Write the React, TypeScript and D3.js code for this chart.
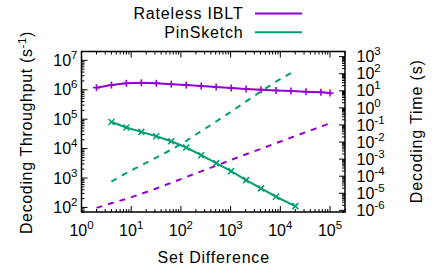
import React from "react";
import * as d3 from "d3";

// ---- data ----
const ibltX = [2, 4, 8, 16, 32, 64, 128, 256, 512, 1024, 2048, 4096, 8192, 16384, 32768, 65536, 100000];
const ibltThroughput = [1.18e6, 1.44e6, 1.66e6, 1.72e6, 1.66e6, 1.55e6, 1.44e6, 1.34e6, 1.24e6, 1.15e6, 1.07e6, 1.01e6, 9.5e5, 9.0e5, 8.6e5, 8.2e5, 7.7e5];
const ibltTime = [1.4e-6, 2.6e-6, 4.7e-6, 9.3e-6, 1.9e-5, 4.1e-5, 8.9e-5, 1.92e-4, 4.1e-4, 9.0e-4, 1.93e-3, 4.05e-3, 8.6e-3, 1.82e-2, 3.8e-2, 8.0e-2, 0.125];

const pinX = [4, 8, 16, 32, 64, 128, 256, 512, 1024, 2048, 4096, 8192, 20000];
const pinThroughput = [8.0e4, 5.2e4, 3.7e4, 2.63e4, 1.78e4, 1.09e4, 5.97e3, 3.2e3, 1.71e3, 849, 444, 231, 111];
const pinTime = [4.8e-5, 1.54e-4, 4.3e-4, 1.22e-3, 3.6e-3, 1.17e-2, 4.3e-2, 0.16, 0.6, 2.4, 9.2, 35, 150];

const xTickExps = [0, 1, 2, 3, 4, 5];
const yTickExps = [2, 3, 4, 5, 6, 7];
const y2TickExps = [3, 2, 1, 0, -1, -2, -3, -4, -5, -6];

const seriesNames = ["Rateless IBLT", "PinSketch"];
const legendWidths = [109.3, 78.4];
const colors = ["#9400D3", "#009E73"];

const W = 435;
const H = 273;
const L = 81.5, R = 345, T = 51.5, B = 212;
const FONT = "'Liberation Sans', Arial, Helvetica, sans-serif";

const x = d3.scaleLog().domain([1, 2e5]).range([L, R]);
const y = d3.scaleLog().domain([70, 2e7]).range([B, T]);
const y2 = d3.scaleLog().domain([8e-7, 2e3]).range([B, T]);

function minorVals(scale: any): number[] {
  const [a, b] = scale.domain();
  const out: number[] = [];
  for (let d = Math.floor(Math.log10(a)) - 1; d <= Math.ceil(Math.log10(b)); d++) {
    for (let m = 2; m <= 9; m++) {
      const v = m * Math.pow(10, d);
      if (v >= a && v <= b) out.push(v);
    }
  }
  return out;
}

function Sup({ x, y, exp, anchor }: { x: number; y: number; exp: number; anchor: string }) {
  return (
    <text x={x} y={y} textAnchor={anchor as any} fontSize={16} fontFamily={FONT} fill="#000">
      <tspan>10</tspan>
      <tspan dy={-7} fontSize={11.5}>{String(exp)}</tspan>
    </text>
  );
}

function Marker({ cx, cy, type, color }: { cx: number; cy: number; type: string; color: string }) {
  const s = 3.5;
  if (type === "+") {
    return (
      <g stroke={color} strokeWidth={1.6}>
        <line x1={cx - s} y1={cy} x2={cx + s} y2={cy} />
        <line x1={cx} y1={cy - s} x2={cx} y2={cy + s} />
      </g>
    );
  }
  const t = 3;
  return (
    <g stroke={color} strokeWidth={1.6}>
      <line x1={cx - t} y1={cy - t} x2={cx + t} y2={cy + t} />
      <line x1={cx - t} y1={cy + t} x2={cx + t} y2={cy - t} />
    </g>
  );
}

export default function App() {
  const solid = d3.line<[number, number]>().x((d) => x(d[0])).y((d) => y(d[1]));
  const dashed = d3.line<[number, number]>().x((d) => x(d[0])).y((d) => y2(d[1]));

  const ibltSolid = ibltX.map((v, i) => [v, ibltThroughput[i]] as [number, number]);
  const ibltDash = ibltX.map((v, i) => [v, ibltTime[i]] as [number, number]);
  const pinSolid = pinX.map((v, i) => [v, pinThroughput[i]] as [number, number]);
  const pinDash = pinX.map((v, i) => [v, pinTime[i]] as [number, number]);

  const maj = 6, mn = 3;

  return (
    <svg width={W} height={H} style={{ position: "absolute", left: 0, top: 0, background: "#fff" }}>
      <rect x={0} y={0} width={W} height={H} fill="#fff" />
      {/* ticks */}
      <g stroke="#000" strokeWidth={1}>
        {xTickExps.map((e) => {
          const px = x(Math.pow(10, e));
          return (
            <g key={"xm" + e}>
              <line x1={px} y1={B} x2={px} y2={B - maj} />
              <line x1={px} y1={T} x2={px} y2={T + maj} />
            </g>
          );
        })}
        {minorVals(x).map((v, i) => (
          <g key={"xn" + i}>
            <line x1={x(v)} y1={B} x2={x(v)} y2={B - mn} />
            <line x1={x(v)} y1={T} x2={x(v)} y2={T + mn} />
          </g>
        ))}
        {yTickExps.map((e) => (
          <line key={"ym" + e} x1={L} y1={y(Math.pow(10, e))} x2={L + maj} y2={y(Math.pow(10, e))} />
        ))}
        {minorVals(y).map((v, i) => (
          <line key={"yn" + i} x1={L} y1={y(v)} x2={L + mn} y2={y(v)} />
        ))}
        {y2TickExps.map((e) => (
          <line key={"y2m" + e} x1={R} y1={y2(Math.pow(10, e))} x2={R - maj} y2={y2(Math.pow(10, e))} />
        ))}
        {minorVals(y2).map((v, i) => (
          <line key={"y2n" + i} x1={R} y1={y2(v)} x2={R - mn} y2={y2(v)} />
        ))}
      </g>

      {/* series */}
      <path d={dashed(ibltDash) || ""} fill="none" stroke={colors[0]} strokeWidth={2} strokeDasharray="6,6" />
      <path d={dashed(pinDash) || ""} fill="none" stroke={colors[1]} strokeWidth={2} strokeDasharray="6,6" />
      <path d={solid(ibltSolid) || ""} fill="none" stroke={colors[0]} strokeWidth={2} />
      <path d={solid(pinSolid) || ""} fill="none" stroke={colors[1]} strokeWidth={2} />
      {ibltSolid.map((d, i) => (
        <Marker key={"im" + i} cx={x(d[0])} cy={y(d[1])} type="+" color={colors[0]} />
      ))}
      {pinSolid.map((d, i) => (
        <Marker key={"pm" + i} cx={x(d[0])} cy={y(d[1])} type="x" color={colors[1]} />
      ))}

      {/* frame */}
      <rect x={L} y={T} width={R - L} height={B - T} fill="none" stroke="#000" strokeWidth={1.5} />

      {/* tick labels */}
      {xTickExps.map((e) => (
        <Sup key={"xl" + e} x={x(Math.pow(10, e))} y={235.5} exp={e} anchor="middle" />
      ))}
      {yTickExps.map((e) => (
        <Sup key={"yl" + e} x={77.5} y={y(Math.pow(10, e)) + 5.7} exp={e} anchor="end" />
      ))}
      {y2TickExps.map((e) => (
        <Sup key={"y2l" + e} x={356.5} y={y2(Math.pow(10, e)) + 5.7} exp={e} anchor="start" />
      ))}

      {/* axis titles */}
      <text x={(L + R) / 2} y={263.3} textAnchor="middle" fontSize={16} fontFamily={FONT}
        textLength={111.6} lengthAdjust="spacing">
        Set Difference
      </text>
      <text transform={`translate(31.7,132.5) rotate(-90)`} textAnchor="middle" fontSize={16} fontFamily={FONT}
        letterSpacing={0.65}>
        <tspan>Decoding Throughput (s</tspan>
        <tspan dy={-6} fontSize={11.5}>-1</tspan>
        <tspan dy={6}>)</tspan>
      </text>
      <text transform={`translate(421.7,131.7) rotate(-90)`} textAnchor="middle" fontSize={16} fontFamily={FONT}
        textLength={143} lengthAdjust="spacing">
        Decoding Time (s)
      </text>

      {/* legend */}
      {seriesNames.map((n, i) => (
        <g key={"lg" + i}>
          <text x={242.7 - legendWidths[i]} y={19 + i * 18.7} textAnchor="start" fontSize={16} fontFamily={FONT}
            textLength={legendWidths[i]} lengthAdjust="spacing">
            {n}
          </text>
          <line x1={255} x2={302} y1={13.5 + i * 18.7} y2={13.5 + i * 18.7} stroke={colors[i]} strokeWidth={2} />
        </g>
      ))}
    </svg>
  );
}
